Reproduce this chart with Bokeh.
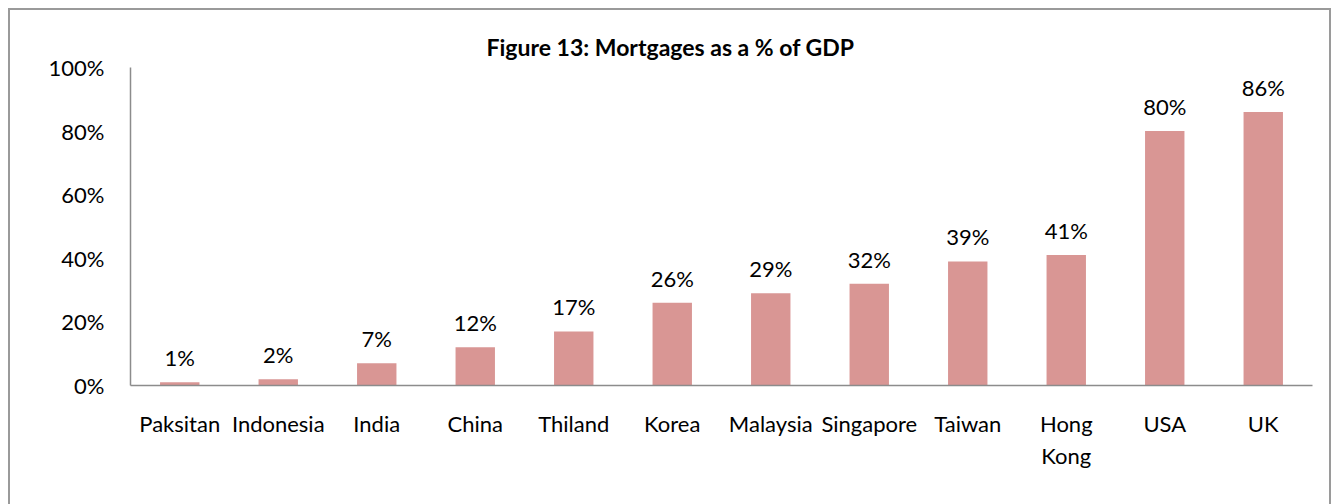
from bokeh.plotting import figure
from bokeh.models import ColumnDataSource, FixedTicker, PrintfTickFormatter, LabelSet
from bokeh.core.properties import value
from bokeh.embed import file_html
from bokeh.resources import INLINE

countries = ["Paksitan", "Indonesia", "India", "China", "Thiland", "Korea",
             "Malaysia", "Singapore", "Taiwan", "Hong Kong", "USA", "UK"]
tick_labels = ["Paksitan", "Indonesia", "India", "China", "Thiland", "Korea",
               "Malaysia", "Singapore", "Taiwan", "Hong\nKong", "USA", "UK"]
mortgage_pct = [1, 2, 7, 12, 17, 26, 29, 32, 39, 41, 80, 86]
y_ticks = [0, 20, 40, 60, 80, 100]
title_text = "Figure 13: Mortgages as a % of GDP"

FONT = "Lato"
FS = "22px"

src = ColumnDataSource(dict(
    country=tick_labels,
    value=mortgage_pct,
    label=[f"{v}%" for v in mortgage_pct],
))

p = figure(x_range=tick_labels, y_range=(0, 100), width=1323, height=496,
           output_backend="svg", toolbar_location=None,
           min_border_left=120, min_border_right=21, min_border_top=57,
           min_border_bottom=121)
p.styles = {"border-top": "2px solid #9a9a9a", "border-left": "2px solid #9a9a9a",
            "border-right": "2px solid #9a9a9a", "box-sizing": "border-box",
            "margin-left": "8px", "margin-top": "8px"}
p.outline_line_color = None
p.grid.grid_line_color = None
p.x_range.range_padding = 0

p.title.text = title_text
p.title.align = "left"
p.title.offset = 356
p.title.standoff = 13
p.title.text_font = FONT
p.title.text_font_style = "bold"
p.title.text_font_size = "23px"
p.title.text_color = "#000000"

p.vbar(x="country", top="value", width=0.4, source=src,
       fill_color="#D99694", line_color=None)

p.add_layout(LabelSet(x="country", y="value", text="label", source=src,
                      text_align="center", text_baseline="bottom", y_offset=11,
                      text_font=value(FONT), text_font_size=value(FS),
                      text_color=value("#000000")))

for ax in (p.xaxis[0], p.yaxis[0]):
    ax.axis_line_color = "#8c8c8c"
    ax.axis_line_width = 1.5
    ax.major_tick_line_color = None
    ax.minor_tick_line_color = None
    ax.major_label_text_font = FONT
    ax.major_label_text_font_size = FS
    ax.major_label_text_color = "#000000"

p.yaxis.ticker = FixedTicker(ticks=y_ticks)
p.yaxis.formatter = PrintfTickFormatter(format="%d%%")
p.yaxis.major_label_standoff = 20
p.xaxis.major_label_standoff = 18

open("out.html", "w").write(file_html(p, INLINE))
